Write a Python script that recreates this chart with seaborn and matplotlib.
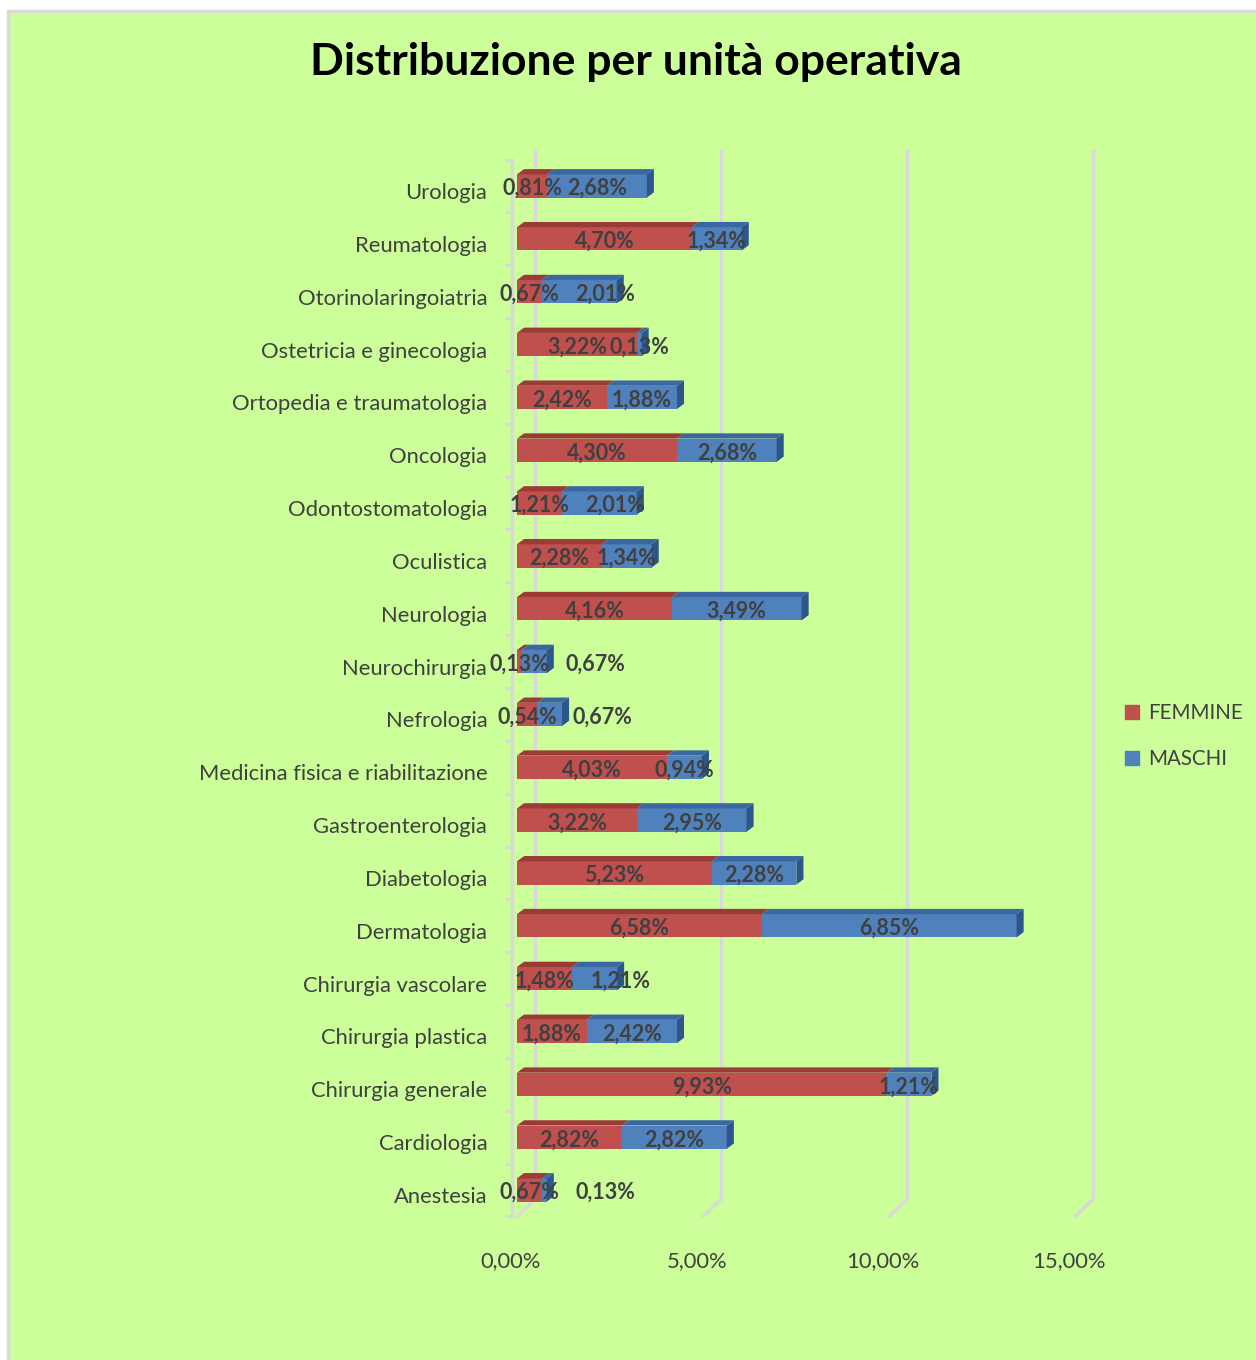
import matplotlib
matplotlib.use("Agg")
import matplotlib.pyplot as plt
import seaborn as sns
import pandas as pd
from matplotlib.patches import Polygon, Rectangle
from matplotlib.lines import Line2D
from matplotlib.transforms import ScaledTranslation

# ---------------- data ----------------
categories = ["Urologia", "Reumatologia", "Otorinolaringoiatria", "Ostetricia e ginecologia",
              "Ortopedia e traumatologia", "Oncologia", "Odontostomatologia", "Oculistica",
              "Neurologia", "Neurochirurgia", "Nefrologia", "Medicina fisica e riabilitazione",
              "Gastroenterologia", "Diabetologia", "Dermatologia", "Chirurgia vascolare",
              "Chirurgia plastica", "Chirurgia generale", "Cardiologia", "Anestesia"]
femmine = [0.81, 4.70, 0.67, 3.22, 2.42, 4.30, 1.21, 2.28, 4.16, 0.13,
           0.54, 4.03, 3.22, 5.23, 6.58, 1.48, 1.88, 9.93, 2.82, 0.67]
maschi = [2.68, 1.34, 2.01, 0.13, 1.88, 2.68, 2.01, 1.34, 3.49, 0.67,
          0.67, 0.94, 2.95, 2.28, 6.85, 1.21, 2.42, 1.21, 2.82, 0.13]
series_names = ["FEMMINE", "MASCHI"]
x_ticks = [0, 5, 10, 15]
x_tick_labels = ["0,00%", "5,00%", "10,00%", "15,00%"]
title = "Distribuzione per unità operativa"

# ---------------- style ----------------
RED, RED_TOP = "#C0504D", "#9A3B38"
BLUE, BLUE_TOP, BLUE_SIDE = "#4F81BD", "#3A679F", "#2D578A"
GRID = "#D9D9D9"
TXT = "#404040"
BG = "#CCFF99"

sns.set_theme(style="white")
plt.rcParams['font.family'] = ['Lato', 'DejaVu Sans']

W, H = 1256, 1360
fig = plt.figure(figsize=(W / 100, H / 100), dpi=100, facecolor="white")
fig.patches.append(Rectangle((8 / W, -0.01), 1 - 8 / W + 0.01, 1 - 11 / H + 0.01,
                             transform=fig.transFigure, facecolor=BG,
                             edgecolor=GRID, lw=2.5, zorder=-10))

ax = fig.add_axes([517 / W, 1 - 1216.4 / H, 558 / W, (1216.4 - 159.6) / H])
ax.set_facecolor("none")

df = pd.DataFrame({"cat": categories, "F": femmine, "M": maschi})
df["T"] = df["F"] + df["M"]

bw = 0.44
sns.barplot(data=df, y="cat", x="T", order=categories, color=BLUE, saturation=1,
            width=bw, ax=ax, orient="h", zorder=3, linewidth=0, edgecolor="none")
sns.barplot(data=df, y="cat", x="F", order=categories, color=RED, saturation=1,
            width=bw, ax=ax, orient="h", zorder=3, linewidth=0, edgecolor="none")

n = len(categories)
ax.set_xlim(0, 15)
ax.set_ylim(n - 0.5, -0.5)

# pseudo-3D faces derived from the bar patches
dx, dy = 0.19, 0.10
blue_bars = ax.patches[:n]
red_bars = ax.patches[n:2 * n]
for bb, rb in zip(blue_bars, red_bars):
    yt = bb.get_y()
    yb = bb.get_y() + bb.get_height()
    xt = bb.get_width()
    xf = rb.get_width()
    ax.add_patch(Polygon([(0, yt), (xf, yt), (xf + dx, yt - dy), (dx, yt - dy)],
                         closed=True, facecolor=RED_TOP, edgecolor="none", zorder=4))
    ax.add_patch(Polygon([(xf, yt), (xt, yt), (xt + dx, yt - dy), (xf + dx, yt - dy)],
                         closed=True, facecolor=BLUE_TOP, edgecolor="none", zorder=4))
    ax.add_patch(Polygon([(xt, yt), (xt, yb), (xt + dx, yb - dy), (xt + dx, yt - dy)],
                         closed=True, facecolor=BLUE_SIDE, edgecolor="none", zorder=4))

# back-wall gridlines with floor slant
gdx, gdy = 0.48, 0.32
for xv in x_ticks:
    ax.plot([xv + gdx, xv + gdx], [-0.7, n - 0.5 - gdy], color=GRID, lw=2.5,
            zorder=1, clip_on=False, solid_capstyle="butt")
    ax.plot([xv + gdx, xv], [n - 0.5 - gdy, n - 0.5], color=GRID, lw=2.5,
            zorder=1, clip_on=False)

# axes decoration
for s in ["top", "right", "bottom"]:
    ax.spines[s].set_visible(False)
ax.spines["left"].set_position(("data", -0.13))
ax.spines["left"].set_color(GRID)
ax.spines["left"].set_linewidth(2.5)
ax.set_xticks(x_ticks)
ax.set_xticklabels(x_tick_labels)
ax.set_yticks(range(n))
ax.set_yticklabels(categories)
ax.set_yticks([i - 0.5 for i in range(n + 1)], minor=True)
ax.tick_params(axis="y", which="minor", length=5, width=2, color=GRID, left=True)
ax.tick_params(axis="y", which="major", length=0, pad=18, labelsize=15.8, labelcolor=TXT)
ax.tick_params(axis="x", which="major", length=0, pad=25, labelsize=15.8, labelcolor=TXT)
ax.set_xlabel("")
ax.set_ylabel("")
ax.grid(False)
for lbl in ax.get_yticklabels():
    lbl.set_transform(lbl.get_transform() + ScaledTranslation(0, -5 / 100, fig.dpi_scale_trans))
for lbl in ax.get_xticklabels():
    lbl.set_transform(lbl.get_transform() + ScaledTranslation(-6 / 100, 0, fig.dpi_scale_trans))

# data labels
fmt = lambda v: f"{v:.2f}%".replace(".", ",")
red_txt, blue_txt = [], []
for i, (f, m) in enumerate(zip(femmine, maschi)):
    red_txt.append(ax.text(f / 2, i + 0.05, fmt(f), ha="center", va="center", fontsize=15.5,
                           fontweight="bold", color=TXT, zorder=6))
    blue_txt.append(ax.text(f + m / 2, i + 0.05, fmt(m), ha="center", va="center", fontsize=15.5,
                            fontweight="bold", color=TXT, zorder=6))
fig.canvas.draw()
r = fig.canvas.get_renderer()
inv = ax.transData.inverted()
for i, (rt, bt) in enumerate(zip(red_txt, blue_txt)):
    rbx = rt.get_window_extent(r)
    bbx = bt.get_window_extent(r)
    if bbx.x0 < rbx.x1 + 2:
        cx_disp = rbx.x1 + 16 + bbx.width / 2
        cx = inv.transform((cx_disp, 0))[0]
        bt.set_x(cx)

# legend
handles = [Line2D([], [], marker="s", ls="none", markersize=9.5, color=RED),
           Line2D([], [], marker="s", ls="none", markersize=9.5, color=BLUE)]
fig.legend(handles, series_names, loc="upper left", bbox_to_anchor=(1113 / W, 1 - 693 / H),
           frameon=False, fontsize=14.8, labelcolor=TXT, handlelength=0.8,
           handletextpad=0.4, labelspacing=1.25, borderpad=0)

fig.text(636 / W, 1 - 62 / H, title, ha="center", va="center", fontsize=32,
         fontweight="bold", color="black")

fig.savefig("out.png", dpi=100, facecolor=fig.get_facecolor())
